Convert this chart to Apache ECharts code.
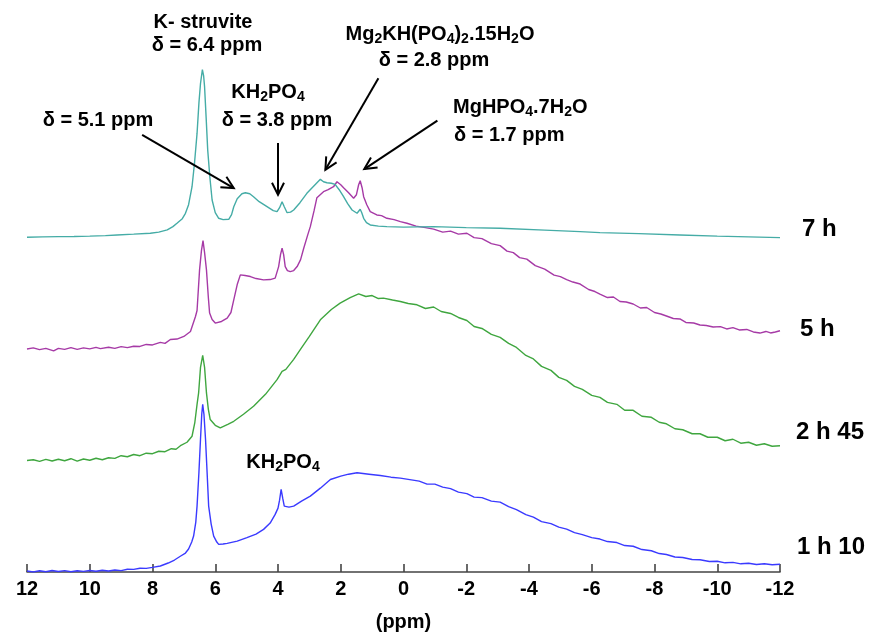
<!DOCTYPE html>
<html><head><meta charset="utf-8">
<script src="https://cdn.jsdelivr.net/npm/echarts@6/dist/echarts.min.js"></script>
<style>html,body{margin:0;padding:0;background:#fff}#c{width:873px;height:637px}</style>
</head><body><div id="c"></div>
<script>
// ---------- DATA (ppm, intensity as stacked in the figure) ----------
const seriesNames = ['1 h 10', '2 h 45', '5 h', '7 h'];

const ppm_1h10 = [12,11.8,11.6,11.4,11.2,11.0,10.8,10.6,10.4,10.2,10.0,9.8,9.6,9.4,9.2,9.0,8.8,8.6,8.4,8.2,8.0,7.75,7.5,7.3,7.1,6.95,6.85,6.75,6.69,6.62,6.58,6.52,6.47,6.43,6.40,6.36,6.31,6.26,6.21,6.13,6.05,5.95,5.89,5.75,5.62,5.3,4.99,4.7,4.46,4.25,4.09,4.0,3.95,3.90,3.85,3.80,3.77,3.65,3.50,3.25,2.97,2.65,2.33,2.0,1.75,1.48,1.1,0.74,0.4,0.1,-0.2,-0.5,-0.75,-1.0,-1.25,-1.5,-1.75,-2.02,-2.25,-2.5,-2.8,-3.08,-3.35,-3.6,-3.9,-4.14,-4.4,-4.7,-4.95,-5.2,-5.45,-5.7,-6.0,-6.26,-6.5,-6.8,-7.05,-7.32,-7.6,-7.9,-8.15,-8.38,-8.65,-8.9,-9.2,-9.45,-9.75,-10.0,-10.25,-10.5,-10.75,-11.0,-11.25,-11.5,-11.75,-12];
const int_1h10 = [1,0,1.2,0.2,1.5,0.5,1.4,0.3,1.2,0.6,1.5,0.8,1.8,1.0,2.0,1.4,2.8,2.6,3.8,3.6,4.6,6,9,12,16,19,23,30,36,50,66,100,133,158,168,158,133,100,66,48,36,30,27.7,28,28.7,31,34.4,38,42.7,49,57.7,64,72,82.7,74,66,64.4,65,66,71,76,84,92.7,96,98,99.4,98,96.7,95,94,92.5,91,88,88,85,83.5,80,78.5,75,74.5,71,70,65.5,62.5,57.5,55,50.5,48.5,45,43,39.5,37.5,34.5,33,30.5,29.5,26.5,25.8,22.5,21.3,18.5,17.5,15,14.5,12.5,12.3,10.5,10.8,9.2,9.6,8.2,8.8,7.5,8.3,7.2,7.7];

const ppm_2h45 = [12,11.8,11.6,11.4,11.2,11.0,10.8,10.6,10.4,10.2,10.0,9.8,9.6,9.4,9.2,9.0,8.8,8.6,8.4,8.2,8.0,7.8,7.6,7.4,7.25,7.11,6.9,6.74,6.65,6.58,6.53,6.47,6.40,6.34,6.28,6.22,6.16,6.0,5.84,5.6,5.41,5.1,4.78,4.4,4.03,3.87,3.75,3.5,3.29,3.0,2.65,2.3,2.02,1.7,1.43,1.2,1.0,0.8,0.64,0.35,0.1,-0.15,-0.43,-0.7,-0.96,-1.2,-1.5,-1.75,-2.02,-2.25,-2.5,-2.8,-3.08,-3.35,-3.6,-3.9,-4.14,-4.4,-4.7,-4.95,-5.2,-5.45,-5.7,-6.0,-6.26,-6.5,-6.8,-7.05,-7.32,-7.6,-7.9,-8.15,-8.38,-8.65,-8.9,-9.2,-9.45,-9.7,-10.0,-10.25,-10.5,-10.75,-11.0,-11.25,-11.5,-11.75,-12];
const int_2h45 = [111.7,112.5,110.8,112.8,111.2,113,111.5,113.5,111,113.2,112,114,112.5,114.5,113.8,116.5,115.5,117.7,116.5,119,118.5,121,120.5,123.5,123,126.5,130,136,150,168,179.4,205,217,205,179.4,163,152.7,147,144.4,148,151,158,166,178,192.7,201,203,213,222.7,236,252.7,263,269.4,275,278.7,276,277,274,274.4,272.5,271,269,267.7,264,265.5,261,259,255,252,246,244,238,235,229,225,217,213.5,206,202,195,192,186,183,177,175,170,168,162,162,156,155,150,148.5,143.5,142.5,138.5,138.5,135,135,131.5,133,129,130,127,128.5,126,126.5];

const ppm_5h = [12,11.8,11.6,11.4,11.15,11.0,10.8,10.6,10.4,10.2,10,9.8,9.66,9.4,9.2,9.0,8.8,8.6,8.4,8.2,8.0,7.75,7.6,7.43,7.22,7.0,6.79,6.63,6.58,6.50,6.44,6.39,6.34,6.28,6.22,6.18,6.1,6.0,5.8,5.62,5.5,5.41,5.3,5.2,5.05,4.88,4.7,4.46,4.25,4.09,3.98,3.92,3.87,3.82,3.77,3.70,3.61,3.5,3.39,3.28,3.18,3.05,2.97,2.85,2.76,2.55,2.4,2.23,2.12,2.0,1.91,1.75,1.59,1.5,1.43,1.38,1.32,1.27,1.17,1.06,0.85,0.7,0.53,0.3,0.1,-0.11,-0.4,-0.7,-0.96,-1.25,-1.5,-1.75,-2.02,-2.25,-2.5,-2.8,-3.08,-3.3,-3.5,-3.7,-3.93,-4.2,-4.5,-4.8,-5.0,-5.2,-5.4,-5.63,-5.9,-6.1,-6.26,-6.5,-6.69,-6.9,-7.1,-7.32,-7.55,-7.75,-8.0,-8.2,-8.38,-8.6,-8.81,-9.0,-9.25,-9.45,-9.65,-9.87,-10.1,-10.3,-10.5,-10.7,-10.94,-11.15,-11.36,-11.55,-11.7,-11.85,-12];
const int_5h = [223.4,224.5,222.8,224,221.5,224,223,224.8,223,224.5,223.5,225,223.8,225.2,224,225.8,224.8,226.2,226,228,227.5,230,229,233,233.4,236,241,256,262,302.7,322,332,320,302.7,275,259.4,253,249.4,251,254.4,260,272.7,288,297.7,297,296,294,292.7,293,294.4,306,318,324.4,318,306,302,301,302,306,313,324.4,338,346,362,375,381,383,386,391,388,385,380,374.4,378,388,392,385,376,368,361,357.7,357,354.4,353,351,349.4,346.5,345,343.5,340.5,341.5,338.5,339.4,335,334,329,327,321.5,320,315,313.5,307,303.5,297.5,296,293,290.5,288.5,283,281,278.5,275,275.5,271,270.5,268.5,264.5,265,260,258.5,256.5,254,253.5,250,249.5,247.5,247,245.5,245.8,243.5,244.8,242.5,243,240.5,239.4,241,239.5,240.5,241.7];

const ppm_7h = [12,11.5,11,10.5,10,9.5,9.13,8.6,8.07,7.8,7.53,7.35,7.22,7.05,6.95,6.85,6.74,6.66,6.58,6.52,6.47,6.41,6.37,6.34,6.29,6.24,6.17,6.10,6.0,5.89,5.75,5.57,5.48,5.41,5.3,5.15,5.04,4.9,4.78,4.6,4.35,4.15,4.03,3.95,3.87,3.80,3.71,3.60,3.50,3.3,3.08,2.85,2.65,2.55,2.44,2.3,2.18,2.05,1.91,1.78,1.64,1.48,1.42,1.38,1.33,1.27,1.18,1.06,0.8,0.53,0.0,-0.96,-2.0,-3.08,-4.5,-5.63,-6.26,-7.5,-8.81,-10.0,-11.0,-12];
const int_7h = [335.4,335.8,336,336.2,336.5,337,337.7,338.5,339.4,340.5,342.7,346,349.4,354,359.4,368,386,410,439.4,470,489.4,503.4,497,486,455,422.7,395,372.7,360,354.4,353,353.4,358,366,374,379,380,379,376,371,366,362,361,365,371,366,360,360.5,362.7,370,379.4,387,393.4,391,390,389.5,388.4,383,376,369,362.7,359.4,361,363.4,360,354.4,350,347.7,346.5,346,345.5,346,345,344.4,342.5,341,340,339,337.7,336.5,335.8,335];

const tickValues = [12,10,8,6,4,2,0,-2,-4,-6,-8,-10,-12];
const tickLabels = ['12','10','8','6','4','2','0','-2','-4','-6','-8','-10','-12'];
const axisTitle = '(ppm)';

// ---------- STYLE / LAYOUT ----------
const FONT = '"Liberation Sans", Arial, sans-serif';
const colors = ['#3a3aff', '#3fa63f', '#a63aa6', '#45aca6'];
const zip = (xs, ys) => xs.map((x, i) => [x, ys[i]]);
const allData = [zip(ppm_1h10, int_1h10), zip(ppm_2h45, int_2h45), zip(ppm_5h, int_5h), zip(ppm_7h, int_7h)];

const chart = echarts.init(document.getElementById('c'), null, {renderer: 'canvas'});
chart.setOption({
  animation: false,
  backgroundColor: '#ffffff',
  grid: {left: 27, right: 93, top: 43, bottom: 64, containLabel: false},
  xAxis: {
    type: 'value', min: -12, max: 12, interval: 2, inverse: true,
    name: axisTitle, nameLocation: 'middle', nameGap: 40,
    nameTextStyle: {fontFamily: FONT, fontWeight: 'bold', fontSize: 20, color: '#000'},
    axisLine: {lineStyle: {color: '#444', width: 1.6}},
    axisTick: {inside: true, length: 8, lineStyle: {color: '#444', width: 1.6}},
    axisLabel: {margin: 7, fontFamily: FONT, fontWeight: 'bold', fontSize: 20, color: '#000',
      formatter: v => { const i = tickValues.indexOf(v); return i >= 0 ? tickLabels[i] : ''; }},
    splitLine: {show: false}
  },
  yAxis: {type: 'value', min: 0, max: 530, show: false, splitLine: {show: false}},
  series: allData.map((d, i) => ({
    name: seriesNames[i], type: 'line', data: d, showSymbol: false, symbol: 'none',
    lineStyle: {color: colors[i], width: 1.4}, z: 2 + i
  }))
});

// ---------- ANNOTATIONS ----------
// arrows given in data coordinates [ppm, intensity]: tail -> head
const arrows = [
  [[8.33, 438], [5.41, 384.7]],
  [[4.0, 429.7], [4.0, 378]],
  [[0.80, 494.7], [2.49, 403]],
  [[-1.08, 452.3], [1.25, 403.7]]
];
const AF = 20;
const bs = {fontFamily: FONT, fontWeight: 'bold', fontSize: AF, fill: '#000'};
const rich = {
  b: {fontFamily: FONT, fontWeight: 'bold', fontSize: AF, color: '#000'},
  s: {fontFamily: FONT, fontWeight: 'bold', fontSize: 14, color: '#000', padding: [10, 0, 0, 0]}
};
function txt(x, y, text, align, size, isRich) {
  const style = isRich ? {text: text, rich: rich, x: x, y: y, align: align, verticalAlign: 'middle', fill: '#000'}
                       : Object.assign({}, bs, {text: text, x: x, y: y, align: align, verticalAlign: 'middle', fontSize: size || AF});
  return {type: 'text', style: style, z: 100};
}
const graphics = [];
arrows.forEach(a => {
  const t = chart.convertToPixel({gridIndex: 0}, a[0]);
  const h = chart.convertToPixel({gridIndex: 0}, a[1]);
  const dx = h[0] - t[0], dy = h[1] - t[1], len = Math.hypot(dx, dy);
  const ux = dx / len, uy = dy / len, L = 12, W = 6;
  graphics.push({type: 'line', shape: {x1: t[0], y1: t[1], x2: h[0], y2: h[1]}, style: {stroke: '#000', lineWidth: 2}, z: 100});
  graphics.push({type: 'polyline', shape: {points: [
    [h[0] - L * ux - W * uy, h[1] - L * uy + W * ux], [h[0], h[1]], [h[0] - L * ux + W * uy, h[1] - L * uy - W * ux]
  ]}, style: {stroke: '#000', lineWidth: 2, fill: null}, z: 100});
});
graphics.push(txt(203, 22, 'K- struvite', 'center'));
graphics.push(txt(207, 45, 'δ = 6.4 ppm', 'center'));
graphics.push(txt(98, 120, 'δ = 5.1 ppm', 'center'));
graphics.push(txt(268, 92, '{b|KH}{s|2}{b|PO}{s|4}', 'center', AF, true));
graphics.push(txt(277, 120, 'δ = 3.8 ppm', 'center'));
graphics.push(txt(440, 34, '{b|Mg}{s|2}{b|KH(PO}{s|4}{b|)}{s|2}{b|.15H}{s|2}{b|O}', 'center', AF, true));
graphics.push(txt(434, 60, 'δ = 2.8 ppm', 'center'));
graphics.push(txt(453, 107, '{b|MgHPO}{s|4}{b|.7H}{s|2}{b|O}', 'left', AF, true));
graphics.push(txt(454, 135, 'δ = 1.7 ppm', 'left'));
graphics.push(txt(283, 462, '{b|KH}{s|2}{b|PO}{s|4}', 'center', AF, true));
// series labels at the right
graphics.push(txt(802, 229, seriesNames[3], 'left', 24));
graphics.push(txt(800, 329, seriesNames[2], 'left', 24));
graphics.push(txt(796, 432, seriesNames[1], 'left', 24));
graphics.push(txt(797, 547, seriesNames[0], 'left', 24));
chart.setOption({graphic: graphics});
</script>
</body></html>
